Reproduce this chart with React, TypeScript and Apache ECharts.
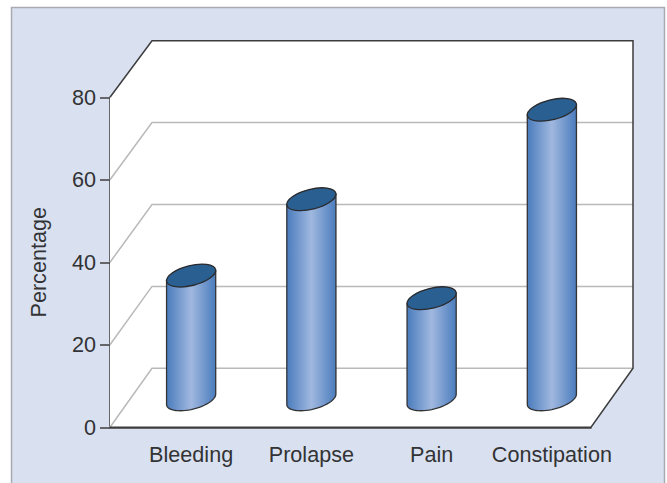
import React, { useEffect, useRef } from "react";
import * as echarts from "echarts";

const categories = ["Bleeding", "Prolapse", "Pain", "Constipation"];
const percentages = [30, 48.5, 24.5, 70.2];
const yTicks = [0, 20, 40, 60, 80];
const yAxisName = "Percentage";

const FONT = '"Liberation Sans", Arial, sans-serif';
const TEXT = "#333335";
const DARK = "#3c3c3e";
const GRID = "#b9b9b9";
const DX = 42;
const DY_BOTTOM = -59;
const DY_TOP = -56.6;
const BAR_DX = 21;
const BAR_DY = -28;
const RX = 25.2;
const RY = 10;
const TILT = (14 * Math.PI) / 180;

const ARC_STEPS = 28;
const T0 = Math.atan((RY / RX) * Math.tan(TILT));
const ellipsePoint = (t: number) => [
  RX * Math.cos(t) * Math.cos(TILT) + RY * Math.sin(t) * Math.sin(TILT),
  -RX * Math.cos(t) * Math.sin(TILT) + RY * Math.sin(t) * Math.cos(TILT),
];
// Lower half of the tilted ellipse, from its left extreme to its right extreme.
const lowerArc = Array.from({ length: ARC_STEPS + 1 }, (_, i) =>
  ellipsePoint(T0 + Math.PI - (Math.PI * i) / ARC_STEPS),
);

export default function App() {
  const ref = useRef<HTMLDivElement>(null);
  useEffect(() => {
    document.body.style.margin = "0";
    const chart = echarts.init(ref.current!, null, { renderer: "svg" });
    const outline = (r: any) => [
      [r.x, r.y],
      [r.x + DX, r.y + DY_TOP],
      [r.x + r.width + DX, r.y + DY_TOP],
      [r.x + r.width + DX, r.y + r.height + DY_BOTTOM],
      [r.x + r.width, r.y + r.height],
      [r.x, r.y + r.height],
    ];
    chart.setOption({
      animation: false,
      graphic: [
        {
          type: "rect",
          z: -10,
          shape: { x: 11.5, y: 7.5, width: 653, height: 490 },
          style: { fill: "#d9e1f0", stroke: "#a9abb0", lineWidth: 1.5 },
        },
      ],
      grid: { left: 110, top: 97.3, width: 481, height: 330 },
      xAxis: {
        type: "category",
        data: categories,
        axisTick: { show: false },
        axisLine: { lineStyle: { color: DARK, width: 1.5 } },
        axisLabel: {
          color: TEXT,
          fontFamily: FONT,
          fontSize: 21.6,
          margin: 16,
          padding: [0, 0, 0, BAR_DX * 2],
          interval: 0,
        },
      },
      yAxis: {
        type: "value",
        min: 0,
        max: 80,
        interval: 20,
        name: yAxisName,
        nameLocation: "middle",
        nameGap: 61,
        nameRotate: 90,
        nameTextStyle: { color: TEXT, fontFamily: FONT, fontSize: 21.6 },
        splitLine: { show: false },
        axisLine: { show: true, lineStyle: { color: DARK, width: 1.5 } },
        axisTick: { show: true, length: 10, lineStyle: { color: DARK, width: 1.5 } },
        axisLabel: { color: TEXT, fontFamily: FONT, fontSize: 21.6, margin: 14 },
      },
      series: [
        {
          type: "custom",
          silent: true,
          z: 1,
          data: [[0, 0]],
          renderItem: (p: any) => ({
            type: "polygon",
            shape: { points: outline(p.coordSys) },
            style: { fill: "#ffffff" },
          }),
        },
        {
          type: "custom",
          silent: true,
          z: 2,
          data: yTicks.slice(0, -1).map((t) => [0, t]),
          renderItem: (p: any, api: any) => {
            const r = p.coordSys;
            const y = api.coord([0, api.value(1)])[1];
            const f = (r.y + r.height - y) / r.height;
            const dy = DY_BOTTOM + (DY_TOP - DY_BOTTOM) * f;
            return {
              type: "polyline",
              shape: {
                points: [
                  [r.x, y],
                  [r.x + DX, y + dy],
                  [r.x + r.width + DX, y + dy],
                ],
              },
              style: { fill: "none", stroke: GRID, lineWidth: 1.5 },
            };
          },
        },
        {
          type: "custom",
          silent: true,
          z: 3,
          data: [[0, 0]],
          renderItem: (p: any) => ({
            type: "polyline",
            shape: { points: outline(p.coordSys) },
            style: { fill: "none", stroke: DARK, lineWidth: 1.5 },
          }),
        },
        {
          type: "custom",
          silent: true,
          z: 4,
          data: percentages.map((v, i) => [i, v]),
          renderItem: (_p: any, api: any) => {
            const zero = api.coord([api.value(0), 0]);
            const top = api.coord([api.value(0), api.value(1)]);
            const cx = zero[0] + BAR_DX;
            const by = zero[1] + BAR_DY;
            const ty = top[1] + BAR_DY;
            const first = lowerArc[0];
            const last = lowerArc[ARC_STEPS];
            const points = [
              [cx + first[0], ty + first[1]],
              ...lowerArc.map((q) => [cx + q[0], by + q[1]]),
              [cx + last[0], ty + last[1]],
            ];
            return {
              type: "group",
              children: [
                {
                  type: "polygon",
                  shape: { points },
                  style: {
                    stroke: "#333336",
                    lineWidth: 1.3,
                    fill: {
                      type: "linear",
                      x: 0,
                      y: 0,
                      x2: 1,
                      y2: 0,
                      colorStops: [
                        { offset: 0, color: "#4a7cbd" },
                        { offset: 0.5, color: "#a0b8df" },
                        { offset: 1, color: "#4a7cbd" },
                      ],
                    },
                  },
                },
                {
                  type: "ellipse",
                  x: cx,
                  y: ty,
                  rotation: TILT,
                  shape: { cx: 0, cy: 0, rx: RX, ry: RY },
                  style: { fill: "#2a5f91", stroke: "#2b2b2e", lineWidth: 1.3 },
                },
              ],
            };
          },
        },
      ],
    });
    return () => chart.dispose();
  }, []);
  return <div ref={ref} style={{ width: 667, height: 483 }} />;
}
